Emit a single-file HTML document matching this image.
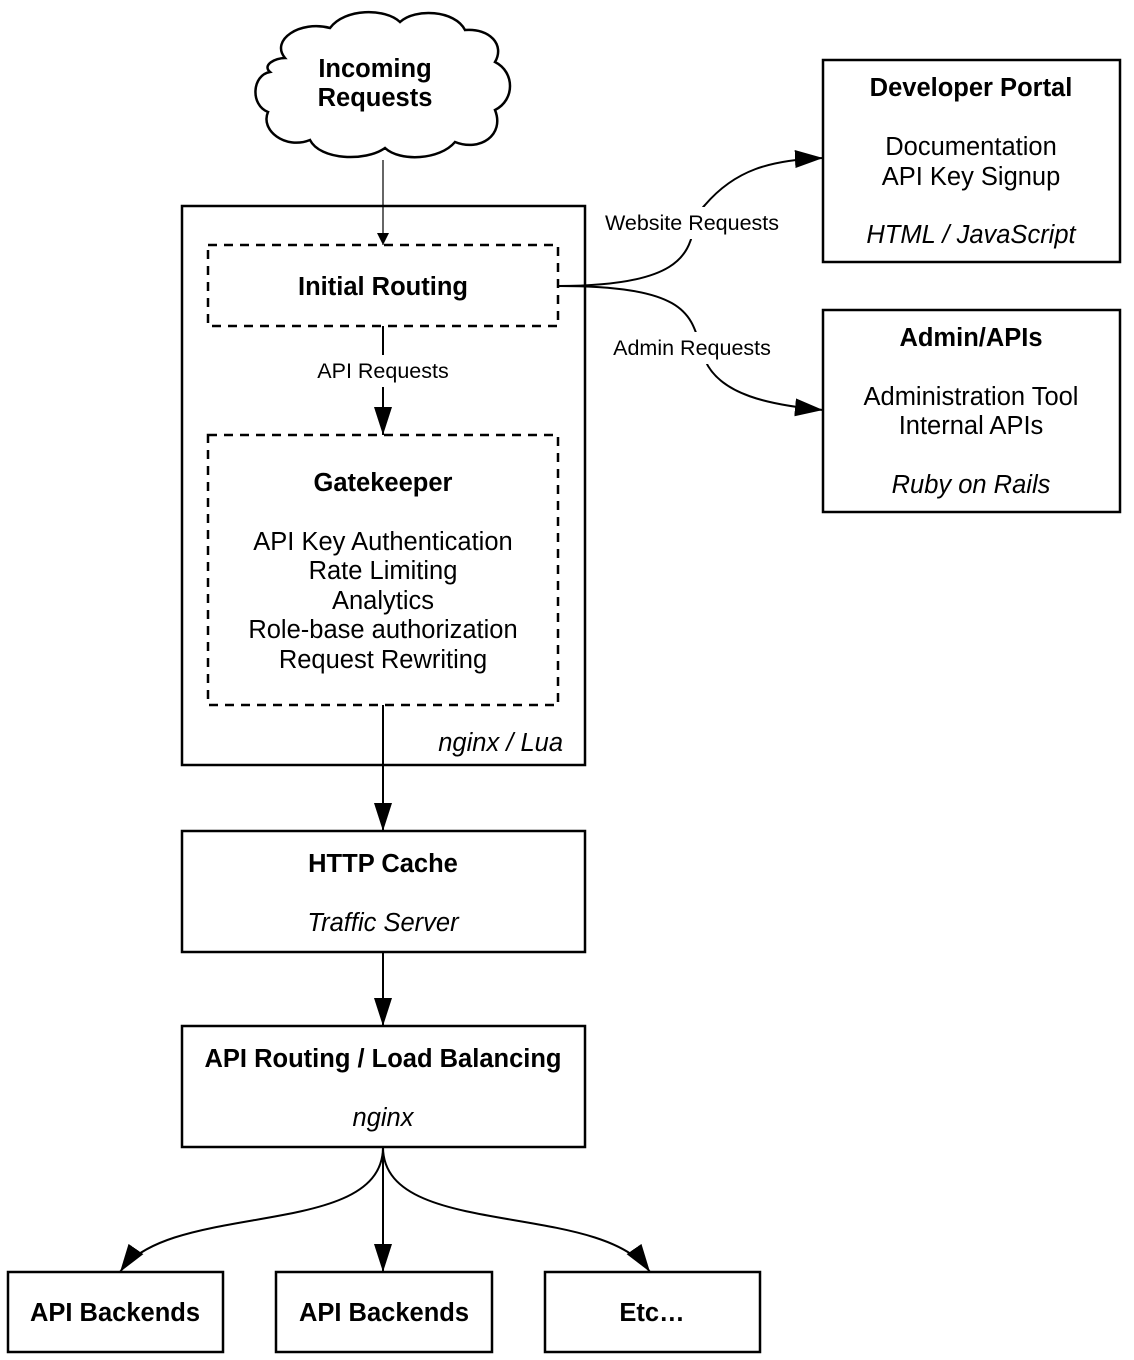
<!DOCTYPE html>
<html><head><style>body{margin:0;background:#fff}svg{display:block}text{font-family:"Liberation Sans",Arial,sans-serif;fill:#000}</style></head><body>
<svg width="1134" height="1360" viewBox="0 0 1134 1360" xmlns="http://www.w3.org/2000/svg">
<defs><marker id="a" viewBox="0 0 10 10" refX="10" refY="5" markerWidth="12" markerHeight="12" markerUnits="userSpaceOnUse" orient="auto"><path d="M0,0L10,5L0,10z" fill="#000"/></marker>
<marker id="b" viewBox="0 0 10 10" refX="10" refY="5" markerWidth="28" markerHeight="18" markerUnits="userSpaceOnUse" orient="auto" preserveAspectRatio="none"><path d="M0,0L10,5L0,10z" fill="#000"/></marker></defs>
<g fill="none" stroke="#000" stroke-width="2.5">
<path d="M285,58 C270,40 300,20 330,28 C345,8 385,8 400,22 C415,8 455,10 465,30 C490,28 505,45 495,62 C515,72 515,100 495,110 C505,135 480,152 455,142 C440,160 400,162 385,148 C365,162 320,160 310,140 C285,150 260,130 268,112 C250,105 252,75 270,72 C262,65 275,58 285,58 Z"/>
<rect x="182" y="206" width="403" height="559"/>
<rect x="208" y="245" width="350" height="81" stroke-dasharray="9,7"/>
<rect x="208" y="435" width="350" height="270" stroke-dasharray="9,7"/>
<rect x="823" y="60" width="297" height="202"/>
<rect x="823" y="310" width="297" height="202"/>
<rect x="182" y="831" width="403" height="121"/>
<rect x="182" y="1026" width="403" height="121"/>
<rect x="8" y="1272" width="215" height="80"/>
<rect x="276" y="1272" width="216" height="80"/>
<rect x="545" y="1272" width="215" height="80"/>
</g>
<g fill="none" stroke="#000" stroke-width="2">
<path d="M383,160 V245" stroke-width="1.2" marker-end="url(#a)"/>
<path d="M383,326 V435" marker-end="url(#b)"/>
<path d="M383,705 V831" marker-end="url(#b)"/>
<path d="M383,952 V1026" marker-end="url(#b)"/>
<path d="M558,286 C720,286 680,230 705,205 C735,170 770,160 823,158" marker-end="url(#b)"/>
<path d="M558,286 C700,286 690,320 705,360 C720,395 770,405 823,410" marker-end="url(#b)"/>
<path d="M383,1147 V1272" marker-end="url(#b)"/>
<path d="M383,1147 C383,1240 170,1200 120,1272" marker-end="url(#b)"/>
<path d="M383,1147 C383,1240 600,1200 650,1272" marker-end="url(#b)"/>
</g>
<rect x="303" y="355" width="160" height="32" fill="#fff"/>
<rect x="590" y="207" width="206" height="32" fill="#fff"/>
<rect x="598" y="332" width="188" height="32" fill="#fff"/>
<g font-size="21.5" text-anchor="middle">
<text x="383" y="378">API Requests</text>
<text x="692" y="230">Website Requests</text>
<text x="692" y="355">Admin Requests</text>
</g>
<g font-size="25.5" text-anchor="middle">
<text x="375" y="77" font-weight="bold">Incoming</text>
<text x="375" y="106" font-weight="bold">Requests</text>
<text x="383" y="295" font-weight="bold">Initial Routing</text>
<text x="383" y="491" font-weight="bold">Gatekeeper</text>
<text x="383" y="550">API Key Authentication</text>
<text x="383" y="579">Rate Limiting</text>
<text x="383" y="609">Analytics</text>
<text x="383" y="638">Role-base authorization</text>
<text x="383" y="668">Request Rewriting</text>
<text x="563" y="751" text-anchor="end" font-style="italic">nginx / Lua</text>
<text x="971" y="96" font-weight="bold">Developer Portal</text>
<text x="971" y="155">Documentation</text>
<text x="971" y="185">API Key Signup</text>
<text x="971" y="243" font-style="italic">HTML / JavaScript</text>
<text x="971" y="346" font-weight="bold">Admin/APIs</text>
<text x="971" y="405">Administration Tool</text>
<text x="971" y="434">Internal APIs</text>
<text x="971" y="493" font-style="italic">Ruby on Rails</text>
<text x="383" y="872" font-weight="bold">HTTP Cache</text>
<text x="383" y="931" font-style="italic">Traffic Server</text>
<text x="383" y="1067" font-weight="bold">API Routing / Load Balancing</text>
<text x="383" y="1126" font-style="italic">nginx</text>
<text x="115" y="1321" font-weight="bold">API Backends</text>
<text x="384" y="1321" font-weight="bold">API Backends</text>
<text x="652" y="1321" font-weight="bold">Etc…</text>
</g>
</svg>
</body></html>
